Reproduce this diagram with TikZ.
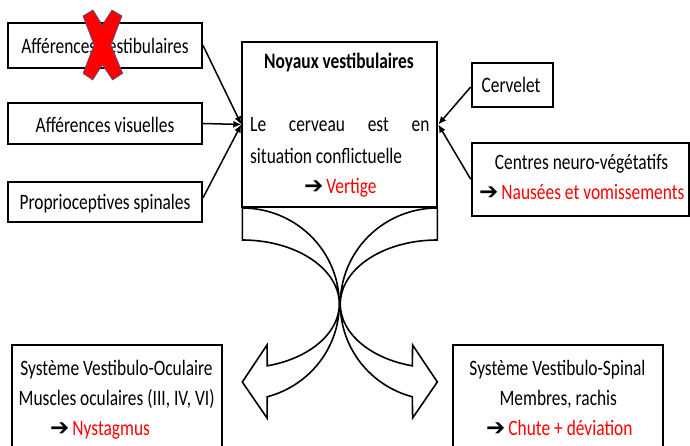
\documentclass[tikz,border=0pt]{standalone}
\usepackage{fontspec}
\setmainfont{Carlito}[FakeStretch=0.79]
\newfontfamily\symfont{DejaVu Sans}
\usetikzlibrary{arrows.meta}
\definecolor{xred}{RGB}{255,0,0}
\definecolor{xedge}{RGB}{56,93,138}
\newcommand{\arr}{{\symfont\bfseries\fontsize{23}{23}\selectfont ➔}}
\begin{document}
\begin{tikzpicture}[x=1pt,y=-1pt,
  box/.style={draw=black, line width=2pt, inner sep=0pt},
  txt/.style={inner sep=0pt, anchor=base, font=\fontsize{22}{30}\selectfont},
  txtl/.style={txt, anchor=base west},
  conn/.style={line width=1.5pt, -{Latex[length=8pt,width=7pt]}},
  bigarrow/.style={line width=1.6pt, line join=miter}
]
\useasboundingbox (0,0) rectangle (690,446);
\clip (0,0) rectangle (690,446);
\fill[white] (0,0) rectangle (690,446);

% boxes
\node[box, minimum width=193.7, minimum height=44.4] (b1) at (105.2,45.5) {};
\node[box, minimum width=193.7, minimum height=41] (b2) at (105.2,123.5) {};
\node[box, minimum width=193.7, minimum height=40] (b3) at (105.2,201.7) {};
\node[box, minimum width=195, minimum height=165] (nv) at (339.8,124.5) {};
\node[box, minimum width=81.6, minimum height=43.5] (c1) at (512.5,85) {};
\node[box, minimum width=216.8, minimum height=73] (c2) at (580.1,179.2) {};
\node[box, minimum width=210, minimum height=115] (bl) at (116.7,402.5) {};
\node[box, minimum width=210.6, minimum height=115] (br) at (558,402.5) {};

% big curved arrows
\draw[bigarrow] (242.3,208)
  -- plot[domain=0:165.07, samples=70, variable=\t] ({242.3+97*sin(\t)},{304-96*cos(\t)})
  -- (267,418) -- (242.3,382) -- (267,345)
  -- plot[domain=165.07:0, samples=70, variable=\t] ({242.3+97*sin(\t)},{304-64*cos(\t)})
  -- cycle;
\draw[bigarrow] (437.3,208)
  -- plot[domain=0:165.07, samples=70, variable=\t] ({437.3-97*sin(\t)},{304-96*cos(\t)})
  -- (412.6,418) -- (437.3,382) -- (412.6,345)
  -- plot[domain=165.07:0, samples=70, variable=\t] ({437.3-97*sin(\t)},{304-64*cos(\t)})
  -- cycle;

% connectors
\draw[conn] (b1.east) -- (nv.west);
\draw[conn] (b2.east) -- (nv.west);
\draw[conn] ([yshift=4pt]b3.east) -- (nv.west);
\draw[conn] ([yshift=-2pt]c1.west) -- (nv.east);
\draw[conn] (c2.west) -- (nv.east);

% texts
\node[txt] (t1) at (105,53.3) {Afférences vestibulaires};
\node[txt] (t2) at (105,132.7) {Afférences visuelles};
\node[txt] (t3) at (105,210) {Proprioceptives spinales};

\node[txt, font=\bfseries\fontsize{22}{30}\selectfont] (n1) at (339,68.3) {Noyaux vestibulaires};
\node[txtl] (n2) at (250,131.7) {\makebox[179.3pt][s]{Le cerveau est en}};
\node[txtl] (n3) at (250,163.3) {situation conflictuelle};
\node[txtl] (n4) at (304,193.3) {\arr\hspace{3pt}\textcolor{xred}{Vertige}};

\node[txt] (r1) at (511,92.7) {Cervelet};
\node[txt] (r2) at (581.5,170) {Centres neuro-végétatifs};
\node[txtl] (r3) at (479,200) {\arr\hspace{3pt}\textcolor{xred}{Nausées et vomissements}};

\node[txt] (l1) at (116.5,375) {Système Vestibulo-Oculaire};
\node[txt] (l2) at (116.7,405) {Muscles oculaires (III, IV, VI)};
\node[txtl] (l3) at (50,435) {\arr\hspace{3pt}\textcolor{xred}{Nystagmus}};

\node[txt] (s1) at (557.5,375) {Système Vestibulo-Spinal};
\node[txt] (s2) at (558.3,405) {Membres, rachis};
\node[txtl] (s3) at (486,435) {\arr\hspace{3pt}\textcolor{xred}{Chute + déviation}};

% red cross
\filldraw[fill=xred, draw=xedge, line width=0.6pt]
  (83,16) -- (93,10) -- (102.3,25) -- (112,10) -- (122,16) -- (111,45)
  -- (122.7,73.3) -- (112.7,80) -- (102.3,65) -- (92.7,80) -- (83,73.3) -- (94,45) -- cycle;
\end{tikzpicture}
\end{document}
